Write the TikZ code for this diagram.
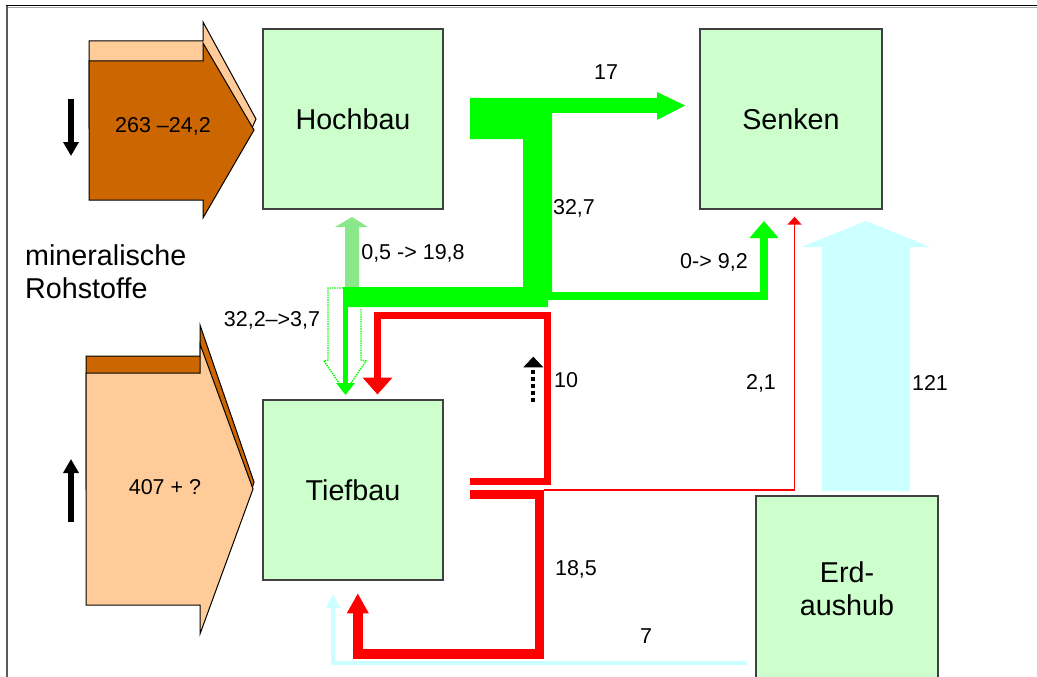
\documentclass[tikz,border=0pt]{standalone}
\usepackage{fontspec}
\setmainfont{Liberation Sans}
\usetikzlibrary{arrows.meta}
\definecolor{boxfill}{HTML}{CCFFCC}
\definecolor{boxdraw}{HTML}{404040}
\definecolor{rawbrown}{HTML}{CC6600}
\definecolor{rawpeach}{HTML}{FFCC99}
\definecolor{flowgreen}{HTML}{00FF00}
\definecolor{hatchgreen}{HTML}{8AE88A}
\definecolor{flowred}{HTML}{FF0000}
\definecolor{flowcyan}{HTML}{CCFFFF}
\tikzset{
  box/.style={draw=boxdraw, line width=1.2pt, fill=boxfill, minimum width=180pt, minimum height=180pt, inner sep=0pt, font=\fontsize{28.7}{33}\selectfont},
  big/.style={inner sep=0pt, font=\fontsize{28.7}{33}\selectfont, align=center},
  lbl/.style={inner sep=0pt, font=\fontsize{21.5}{26}\selectfont},
  rawarrow/.style={draw=black, line width=1pt, line join=miter},
  flow/.style={line cap=butt, line join=miter}
}
\begin{document}
\begin{tikzpicture}[x=1pt,y=-1pt]
\useasboundingbox (0,0) rectangle (1037,677);
\fill[white] (0,0) rectangle (1037,677);
% frame
\draw[black!65, line width=2pt] (7,677) -- (7,6);
\draw[black, line width=1.6pt] (6,5.5) -- (1037,5.5);
\draw[black!35, line width=1pt] (8,7.6) -- (1037,7.6);

% boxes
\node[box] (hoch) at (353,119) {Hochbau};
\node[box, minimum width=182pt] (senk) at (791,119) {Senken};
\node[box] (tief) at (353,490) {Tiefbau};
\node[box, minimum width=182pt, minimum height=186pt] (erd) at (847,589) {};
\node[big] (erdt) at (847,589) {Erd-\\aushub};

% raw material arrows
\filldraw[rawarrow, fill=rawpeach] (89,41) -- (203,41) -- (203,22) -- (256,119) -- (252,128) -- (89,128) -- cycle;
\filldraw[rawarrow, fill=rawbrown] (89,61) -- (203,61) -- (203,43) -- (254,130) -- (203,218) -- (203,200) -- (89,200) -- cycle;
\node[lbl] (hochin) at (163,126) {263 –24,2};

\filldraw[rawarrow, fill=rawbrown] (86,356) -- (200,356) -- (200,325) -- (254,482) -- (252,489) -- (86,489) -- cycle;
\filldraw[rawarrow, fill=rawpeach] (86,373) -- (200,373) -- (200,344) -- (253,489) -- (200,634) -- (200,605) -- (86,605) -- cycle;
\node[lbl] (tiefin) at (165,487) {407 + ?};

\coordinate (dn0) at (71,99); \coordinate (dn1) at (71,156);
\draw[line width=5.5pt, -{Triangle[length=14pt,width=15pt]}] (dn0) -- (dn1);
\coordinate (up0) at (71,522); \coordinate (up1) at (71,459);
\draw[line width=5.5pt, -{Triangle[length=14pt,width=15pt]}] (up0) -- (up1);

\node[big, align=left, anchor=west] (roh) at (25,272) {mineralische\\Rohstoffe};

% dotted outline arrow 32,2 -> 3,7
\draw[flowgreen, line width=1.4pt, densely dotted] (343,288) -- (328,288) -- (328,360) -- (324,361) -- (345,392) -- (366,361) -- (361,360) -- (361,308);
% hatched up arrow 0,5 -> 19,8
\fill[hatchgreen] (345,288) -- (345,227) -- (335,227) -- (352,217) -- (368,227) -- (359,227) -- (359,288) -- cycle;

% main green flow
\fill[flowgreen] (470,98) -- (657,98) -- (657,92) -- (685,105.5) -- (657,120) -- (657,113) -- (552,113) -- (552,300) -- (548,300) -- (548,307) -- (343,307) -- (343,287) -- (523,287) -- (523,139) -- (470,139) -- cycle;
\draw[flowgreen, flow, line width=4.5pt, -{Triangle[length=12pt,width=18pt]}] (345.5,300) -- (345.5,395);
\draw[flowgreen, flow, line width=8pt, -{Triangle[length=17pt,width=28pt]}] (548,296) -- (764,296) -- (764,221);

% red flows
\draw[flowred, flow, line width=6.6pt, -{Triangle[length=17pt,width=29pt]}] (470,481.3) -- (547.5,481.3) -- (547.5,315.7) -- (377.5,315.7) -- (377.5,394.5);
\draw[flowred, flow, line width=9.5pt, -{Triangle[length=20pt,width=20.5pt]}] (470,494.3) -- (539.7,494.3) -- (539.7,653.8) -- (357.8,653.8) -- (357.8,593.3);
\draw[flowred, flow, line width=1.5pt, -{Triangle[length=8pt,width=14pt]}] (544,489.8) -- (794.5,489.8) -- (794.5,216.7);

% cyan flows
\fill[flowcyan] (822,491) -- (822,247) -- (801,247) -- (866,221) -- (930,247) -- (910,247) -- (910,491) -- cycle;
\draw[flowcyan, flow, line width=4.5pt, -{Triangle[length=14pt,width=13pt]}] (747,663) -- (333,663) -- (333,594);

% black dotted indicator
\draw[line width=4pt, dash pattern=on 4pt off 3pt] (533.3,402) -- (533.3,368);
\fill (523.3,367.3) -- (533.3,356.7) -- (543.3,367.3) -- cycle;

% labels
\node[lbl] (l17) at (606,72) {17};
\node[lbl] (l327) at (574,208) {32,7};
\node[lbl] (l05) at (413,253) {0,5 -> 19,8};
\node[lbl] (l09) at (714,262) {0-> 9,2};
\node[lbl] (l322) at (272,320) {32,2–>3,7};
\node[lbl] (l10) at (566,380) {10};
\node[lbl] (l21) at (761,383) {2,1};
\node[lbl] (l121) at (930,383) {121};
\node[lbl] (l185) at (576,569) {18,5};
\node[lbl] (l7) at (646,636) {7};
\end{tikzpicture}
\end{document}
